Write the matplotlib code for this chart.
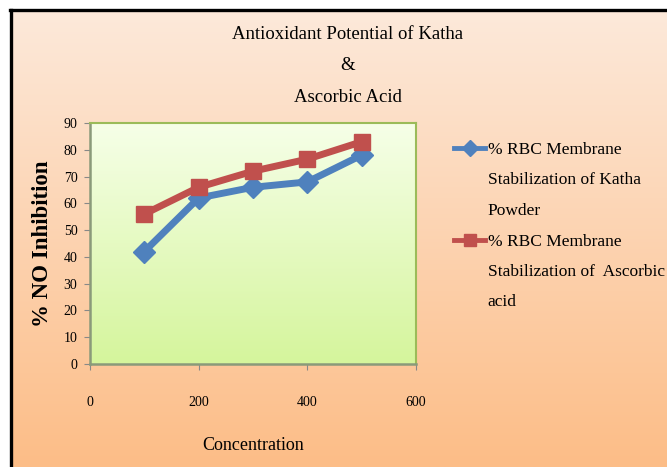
import numpy as np
import matplotlib.pyplot as plt
from matplotlib.colors import LinearSegmentedColormap

conc = [100, 200, 300, 400, 500]
katha = [42, 62, 66, 68, 78]
ascorbic = [56, 66, 72, 76.5, 83]
labels = ['% RBC Membrane\nStabilization of Katha\nPowder',
          '% RBC Membrane\nStabilization of  Ascorbic\nacid']

serif = 'Liberation Serif'

fig = plt.figure(figsize=(6.67, 4.67), dpi=100)
fig.patch.set_facecolor('white')

# peach background with a vertical gradient and a black frame on the left/top
bg = fig.add_axes([12 / 667, 0, 1 - 12 / 667, 1 - 11 / 467], zorder=-5)
peach = LinearSegmentedColormap.from_list('peach', ['#fde9da', '#fcbd87'])
bg.imshow(np.linspace(0, 1, 256).reshape(-1, 1), cmap=peach, aspect='auto',
          extent=[0, 1, 0, 1], origin='upper')
bg.set_xlim(0, 1)
bg.set_ylim(0, 1)
bg.axis('off')
fig.add_artist(plt.Line2D([11 / 667, 11 / 667], [0, 1 - 9.5 / 467], color='black', lw=2.4,
                          transform=fig.transFigure))
fig.add_artist(plt.Line2D([10 / 667, 1], [1 - 9.5 / 467, 1 - 9.5 / 467], color='black', lw=2.4,
                          transform=fig.transFigure))

ax = fig.add_axes([90 / 667, 1 - 364 / 467, 326 / 667, 241 / 467])
green = LinearSegmentedColormap.from_list('green', ['#f6ffe8', '#d5f59c'])
ax.imshow(np.linspace(0, 1, 256).reshape(-1, 1), cmap=green, aspect='auto',
          extent=[0, 600, 0, 90], origin='upper', zorder=0)

ax.plot(conc, katha, color='#4f81bd', lw=5, marker='D', ms=11, mec='#4f81bd',
        label=labels[0], zorder=3)
ax.plot(conc, ascorbic, color='#c0504d', lw=5, marker='s', ms=12, mec='#c0504d',
        label=labels[1], zorder=4)

ax.set_xlim(0, 600)
ax.set_ylim(0, 90)
ax.set_xticks(range(0, 601, 200))
ax.set_yticks(range(0, 91, 10))
for s in ['top', 'right']:
    ax.spines[s].set_color('#9bbb59')
    ax.spines[s].set_linewidth(1.5)
for s in ['left', 'bottom']:
    ax.spines[s].set_color('#8a9a7a')
    ax.spines[s].set_linewidth(1.8)
ax.tick_params(axis='x', length=4, color='#888888', pad=19)
ax.tick_params(axis='y', length=4, color='#888888', pad=5)
for t in ax.get_xticklabels() + ax.get_yticklabels():
    t.set_fontfamily(serif)
    t.set_fontsize(10)

ax.set_xlabel('Concentration', fontfamily=serif, fontsize=13, labelpad=20)
ax.set_ylabel('% NO Inhibition', fontfamily=serif, fontsize=16.5, fontweight='bold', labelpad=8)

fig.text(348 / 667, 1 - 26 / 467, 'Antioxidant Potential of Katha\n&\nAscorbic Acid',
         ha='center', va='top', fontfamily=serif, fontsize=13.5, linespacing=2.1)

leg = ax.legend(loc='upper left', bbox_to_anchor=(454 / 667, 1 - 142 / 467),
                bbox_transform=fig.transFigure, frameon=False,
                prop={'family': serif, 'size': 12.5}, handlelength=1.8,
                handletextpad=0.15, labelspacing=0.85, markerscale=0.75,
                borderaxespad=0, borderpad=0)
for t in leg.get_texts():
    t.set_linespacing(2.2)
for line in leg.get_lines():
    line.set_linewidth(3.5)
# put each handle on the first line of its label
for col in leg._legend_handle_box.get_children():
    for item in col.get_children():
        item.align = 'top'

fig.savefig('out.png', dpi=100)
